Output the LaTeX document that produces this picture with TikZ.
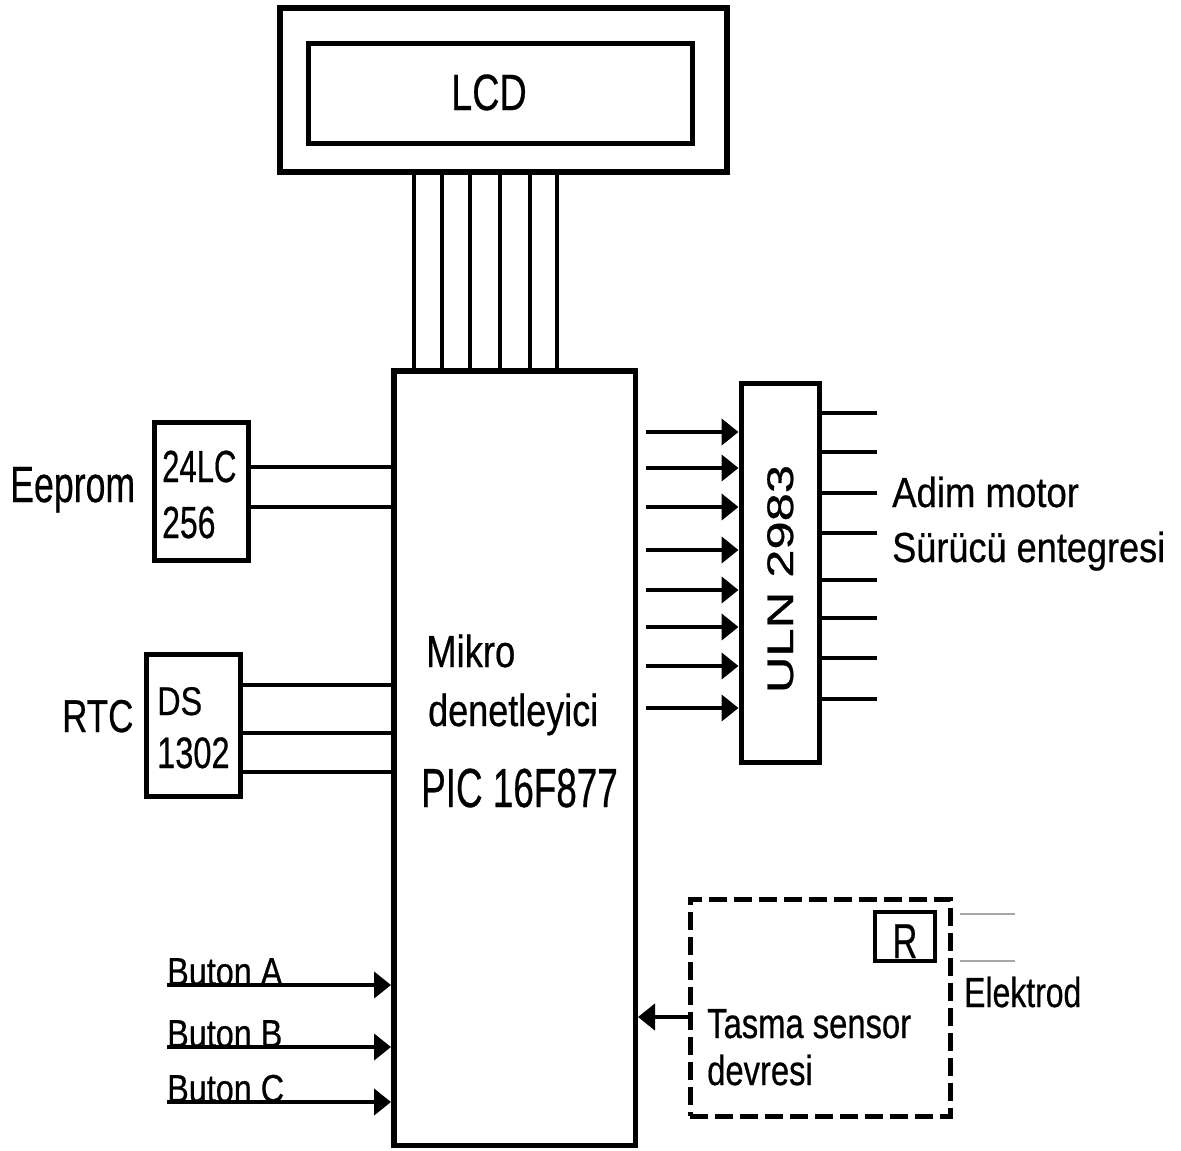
\documentclass[tikz,border=0pt]{standalone}
\usepackage{graphicx}
\usepackage{fontspec}
\setmainfont{Liberation Sans}[FakeBold=0.6]
\usetikzlibrary{arrows.meta}
\newcommand{\sq}[3]{\fontsize{#1}{#1}\selectfont\scalebox{#2}[1]{#3}}
\tikzset{
  box/.style={draw, line width=5pt, inner sep=0pt},
  lbl/.style={inner sep=0pt, anchor=base west},
  wire/.style={line width=3.3pt},
  outw/.style={line width=4pt},
  arr/.style={line width=4.5pt, -{Triangle[length=17pt,width=26pt]}},
  elec/.style={line width=1.2pt, gray!70},
}
\begin{document}
\begin{tikzpicture}[x=1pt, y=-1pt]
\useasboundingbox[fill=white] (0,0) rectangle (1181,1151);

% LCD
\node[box, line width=6.5pt, minimum width=447pt, minimum height=164pt] (lcd) at (503.5,90) {};
\node[box, minimum width=384pt, minimum height=100pt] (lcdin) at (500.5,93.5) {};
\node[inner sep=0pt, anchor=base] (lcdt) at (489,110) {\sq{51}{0.74}{LCD}};

% Microcontroller
\node[box, line width=5.5pt, minimum width=241.5pt, minimum height=774.5pt] (mcu) at (514.5,758) {};
\node[lbl] (mk1) at (426,667) {\sq{45}{0.81}{Mikro}};
\node[lbl] (mk2) at (428,726) {\sq{45}{0.80}{denetleyici}};
\node[lbl] (mk3) at (421,807) {\sq{55}{0.67}{PIC 16F877}};

% LCD wires
\foreach \x in {414,442,470,500,530,557}
  \draw[wire] (lcd.south -| \x,0) -- (mcu.north -| \x,0);

% Eeprom
\node[box, minimum width=94pt, minimum height=138pt] (eep) at (201,491) {};
\node[lbl] (eept1) at (162,482) {\sq{45}{0.69}{24LC}};
\node[lbl] (eept2) at (162,538) {\sq{45}{0.71}{256}};
\node[lbl] (eepl) at (10,502) {\sq{51}{0.70}{Eeprom}};
\foreach \y in {467,507}
  \draw[wire] (eep.east |- 0,\y) -- (mcu.west |- 0,\y);

% RTC
\node[box, minimum width=94pt, minimum height=142pt] (rtc) at (193,725) {};
\node[lbl] (rtct1) at (157,715) {\sq{40}{0.81}{DS}};
\node[lbl] (rtct2) at (157,768) {\sq{44}{0.74}{1302}};
\node[lbl] (rtcl) at (62,732) {\sq{46}{0.76}{RTC}};
\foreach \y in {685,733,772}
  \draw[wire] (rtc.east |- 0,\y) -- (mcu.west |- 0,\y);

% ULN 2983
\node[box, minimum width=78pt, minimum height=379pt] (uln) at (780,572.5) {};
\node[inner sep=0pt, anchor=base, rotate=90] (ulnt) at (793,579) {\sq{37}{1.37}{ULN 2983}};
\foreach \y in {432,468,507,550,590,627,666,708}
  \draw[arr] (mcu.east |- 0,\y) ++(8,0) -- (uln.west |- 0,\y);
\foreach \y in {413,452,493,533,580,618,658,699}
  \draw[outw] (uln.east |- 0,\y) -- ++(55,0);
\node[lbl] (mot1) at (892,507) {\sq{42}{0.87}{Adim motor}};
\node[lbl] (mot2) at (892,562) {\sq{42}{0.86}{Sürücü entegresi}};

% Buttons
\node[lbl] (btnA) at (167,985) {\sq{39}{0.83}{Buton A}};
\node[lbl] (btnB) at (167,1047) {\sq{39}{0.83}{Buton B}};
\node[lbl] (btnC) at (167,1102) {\sq{39}{0.83}{Buton C}};
\foreach \b in {btnA,btnB,btnC}
  \draw[arr] (\b.base west) -- (\b.base west -| mcu.west);

% Sensor circuit
\node[box, dash pattern=on 18pt off 7pt, minimum width=260pt, minimum height=217pt] (sens) at (820,1007.5) {};
\node[box, line width=4.5pt, minimum width=60pt, minimum height=49pt] (rbox) at (905,936.5) {};
\node[inner sep=0pt, anchor=base] (rt) at (905,958) {\sq{49}{0.70}{R}};
\node[lbl] (sen1) at (707,1038) {\sq{42}{0.78}{Tasma sensor}};
\node[lbl] (sen2) at (707,1085) {\sq{42}{0.78}{devresi}};
\node[lbl] (elk) at (964,1007) {\sq{42}{0.76}{Elektrod}};
\draw[arr] (sens.west |- 0,1017) -- (mcu.east |- 0,1017);
\foreach \y in {914,961}
  \draw[elec] (sens.east |- 0,\y) ++(7,0) -- ++(55,0);
\end{tikzpicture}
\end{document}
